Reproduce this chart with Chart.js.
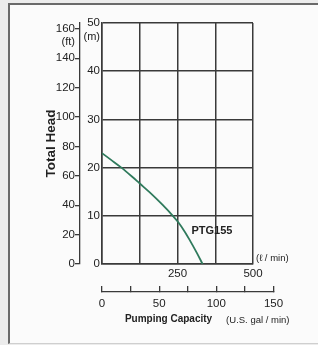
<!DOCTYPE html>
<html>
<head>
<meta charset="utf-8">
<script src="https://cdn.jsdelivr.net/npm/chart.js@4/dist/chart.umd.min.js"></script>
<style>
  html, body { margin: 0; padding: 0; background: #ececec; }
  #wrap { position: relative; width: 318px; height: 345px; overflow: hidden; }
  #frame { position: absolute; left: 8px; top: 3px; width: 330px; height: 338px; background: #fbfbfb;
           border-left: 2px solid #6a6a6a; border-top: 2px solid #6a6a6a; border-bottom: 1px solid #cfcfcf; }
  canvas { position: absolute; left: 0; top: 0; }
</style>
</head>
<body>
<div id="wrap"><div id="frame"></div><canvas id="pump" width="318" height="345"></canvas></div>
<script>
const flowLpm = [0, 30, 62, 100, 125, 159, 200, 236, 252, 275, 291, 314, 333];
const headM   = [23, 21.6, 20.1, 18.1, 16.7, 14.8, 12.3, 9.9, 8.7, 6.6, 4.9, 2.3, 0];

const lpmLabels = [250, 500];
const galLabels = [0, 50, 100, 150];

const LPM_MAX = 500, GAL_MAX = 150, M_MAX = 50;
const LPM_PER_GAL = 3.785411784;
const FT_PER_M = 1 / 0.3048;

const INK  = '#222';
const GRID = '#3a3a3a';
const SANS = "'Liberation Sans', Arial, sans-serif";
const TICK_SIZE = 11.5;

Chart.defaults.font.family = SANS;
Chart.defaults.color = INK;

// l'axe gal/min dépasse la zone du graphe (150 gal > 500 l)
const stretchGal = {
  id: 'stretchGal',
  afterLayout(chart) {
    const s = chart.scales.gal, a = chart.chartArea;
    const w = a.width * (GAL_MAX * LPM_PER_GAL / LPM_MAX);
    s.left = a.left; s.right = a.left + w; s.width = w;
    s.configure();
  }
};

const texts = {
  id: 'texts',
  afterDraw(chart) {
    const { ctx, chartArea: a, scales } = chart;
    const { x, y, ft, gal } = scales;
    ctx.save();
    ctx.fillStyle = INK;

    // Total Head
    ctx.save();
    ctx.translate(ft.left + 51, (a.top + a.bottom) / 2);
    ctx.rotate(-Math.PI / 2);
    ctx.font = `bold 13.5px ${SANS}`;
    ctx.textAlign = 'center'; ctx.textBaseline = 'middle';
    ctx.fillText('Total Head', 0, 0);
    ctx.restore();

    ctx.font = `11px ${SANS}`;
    ctx.textBaseline = 'middle';
    ctx.textAlign = 'right';
    ctx.fillText('(ft)', ft.right - 5, ft.getPixelForValue(160) + 13);
    ctx.fillText('(m)', y.right - 2, y.getPixelForValue(50) + 14);

    ctx.textAlign = 'left';
    ctx.font = `9.5px ${SANS}`;
    ctx.fillText('(ℓ / min)', a.right + 3, a.bottom - 6);

    ctx.font = `bold 11px ${SANS}`;
    ctx.textAlign = 'center';
    ctx.fillText('PTG155', x.getPixelForValue(364), y.getPixelForValue(6.8));

    // Pumping Capacity (U.S. gal / min)
    const t1 = 'Pumping Capacity', t2 = '(U.S. gal / min)', gap = 14;
    ctx.textBaseline = 'alphabetic';
    ctx.font = `bold 10px ${SANS}`;
    const w1 = ctx.measureText(t1).width;
    ctx.font = `9.5px ${SANS}`;
    const w2 = ctx.measureText(t2).width;
    const cx = gal.getPixelForValue(92);
    const x0 = cx - (w1 + gap + w2) / 2;
    ctx.textAlign = 'left';
    ctx.font = `bold 10px ${SANS}`;
    ctx.fillText(t1, x0, 322);
    ctx.font = `9.5px ${SANS}`;
    ctx.fillText(t2, x0 + w1 + gap, 323);

    ctx.restore();
  }
};

new Chart(document.getElementById('pump'), {
  type: 'line',
  data: {
    datasets: [{
      data: flowLpm.map((v, i) => ({ x: v, y: headM[i] })),
      borderColor: '#2f7a5c',
      borderWidth: 1.8,
      pointRadius: 0,
      cubicInterpolationMode: 'monotone',
      xAxisID: 'x', yAxisID: 'y'
    }]
  },
  options: {
    responsive: false,
    animation: false,
    devicePixelRatio: 1,
    layout: { padding: { top: 23, right: 65, bottom: 0, left: 0 } },
    plugins: { legend: { display: false }, tooltip: { enabled: false } },
    scales: {
      x: {
        type: 'linear', position: 'bottom', min: 0, max: LPM_MAX, weight: 0,
        afterFit: s => { s.height = 28; },
        grid: { color: GRID, lineWidth: 1.5, drawTicks: false },
        border: { color: GRID, width: 1.5 },
        ticks: { stepSize: 125, autoSkip: false, maxRotation: 0, padding: 3, color: INK, font: { size: TICK_SIZE },
                 callback: v => lpmLabels.includes(v) ? String(v) : '' }
      },
      gal: {
        type: 'linear', position: 'bottom', min: 0, max: GAL_MAX, weight: 1,
        afterFit: s => { s.height = 53; },
        grid: { drawOnChartArea: false, tickLength: -6, color: GRID, lineWidth: 1.3 },
        border: { color: GRID, width: 1.3 },
        ticks: { stepSize: 25, autoSkip: false, maxRotation: 0, padding: 11, color: INK, font: { size: TICK_SIZE },
                 callback: v => galLabels.includes(v) ? String(v) : '' }
      },
      y: {
        position: 'left', min: 0, max: M_MAX, weight: 0,
        afterFit: s => { s.width = 22; },
        grid: { color: GRID, lineWidth: 1.5, drawTicks: false },
        border: { color: GRID, width: 1.5 },
        ticks: { stepSize: 10, padding: 2, color: INK, font: { size: TICK_SIZE } }
      },
      ft: {
        position: 'left', min: 0, max: M_MAX * FT_PER_M, weight: 1,
        afterFit: s => { s.width = 80; },
        grid: { drawOnChartArea: false, tickLength: 5, color: GRID, lineWidth: 1.3 },
        border: { color: GRID, width: 1.3 },
        ticks: { stepSize: 20, includeBounds: false, padding: 0, color: INK, font: { size: TICK_SIZE } }
      }
    }
  },
  plugins: [stretchGal, texts]
});
</script>
</body>
</html>
